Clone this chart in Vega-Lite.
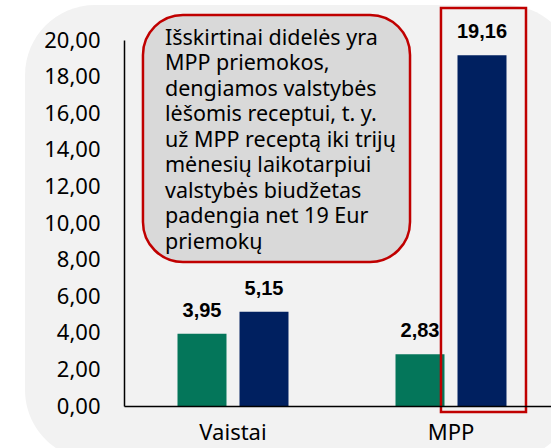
{
  "$schema": "https://vega.github.io/schema/vega-lite/v6.json",
  "autosize": "none",
  "width": 436,
  "height": 366,
  "padding": {"left": 124, "top": 40, "right": 0, "bottom": 42},
  "background": "white",
  "datasets": {
    "bars": [
      {"group": "Vaistai", "series": "Paciento priemoka", "value": 3.95},
      {"group": "Vaistai", "series": "Valstybės dengiama priemoka", "value": 5.15},
      {"group": "MPP", "series": "Paciento priemoka", "value": 2.83},
      {"group": "MPP", "series": "Valstybės dengiama priemoka", "value": 19.16}
    ],
    "note": [
      {"text": ["Išskirtinai didelės yra", "MPP priemokos,", "dengiamos valstybės", "lėšomis receptui, t. y.", "už MPP receptą iki trijų", "mėnesių laikotarpiui", "valstybės biudžetas", "padengia net 19 Eur", "priemokų"]}
    ]
  },
  "layer": [
    {
      "data": {"values": [{"card": "fonas"}]},
      "mark": {"type": "rect", "fill": "#f2f2f2", "cornerRadius": 70},
      "encoding": {
        "x": {"datum": "Vaistai", "bandPosition": -0.454},
        "x2": {"datum": "MPP", "bandPosition": 1.07},
        "y": {"datum": 21.91, "type": "quantitative"},
        "y2": {"datum": -2.95}
      }
    },
    {
      "data": {"name": "bars"},
      "mark": {"type": "bar"},
      "encoding": {
        "x": {
          "field": "group", "type": "nominal", "sort": ["Vaistai", "MPP"],
          "scale": {"paddingInner": 0, "paddingOuter": 0},
          "axis": {"title": null, "labelAngle": 0, "bandPosition": 0.5, "labelAlign": "center", "labelBaseline": "top", "labelFont": "Noto Sans", "labelFontSize": 22, "labelColor": "#000000", "labelPadding": 16, "ticks": false, "domainColor": "#000000", "domainWidth": 1.5, "zindex": 1}
        },
        "xOffset": {"field": "series", "type": "nominal", "scale": {"paddingInner": 0.21, "paddingOuter": 0.863}},
        "y": {
          "field": "value", "type": "quantitative",
          "scale": {"domain": [0, 20], "nice": false},
          "axis": {"title": null, "tickCount": 10, "labelExpr": "replace(format(datum.value, '.2f'), '.', ',')", "labelOverlap": false, "labelSeparation": 0, "grid": false, "ticks": false, "labelPadding": 24, "labelFont": "Noto Sans", "labelFontSize": 22, "labelColor": "#000000", "domainColor": "#000000", "domainWidth": 1.5, "zindex": 1}
        },
        "color": {"field": "series", "type": "nominal", "scale": {"domain": ["Paciento priemoka", "Valstybės dengiama priemoka"], "range": ["#04765A", "#002060"]}, "legend": null}
      }
    },
    {
      "data": {"name": "bars"},
      "mark": {"type": "text", "font": "Liberation Sans", "fontWeight": "bold", "fontSize": 20, "baseline": "alphabetic", "dy": -17, "color": "#000000"},
      "encoding": {
        "x": {"field": "group", "type": "nominal", "sort": ["Vaistai", "MPP"]},
        "xOffset": {"field": "series", "type": "nominal"},
        "y": {"field": "value", "type": "quantitative"},
        "text": {"field": "value", "type": "quantitative", "format": ".2f"}
      }
    },
    {
      "data": {"values": [{"box": "pastaba"}]},
      "mark": {"type": "rect", "fill": "#d9d9d9", "stroke": "#c00000", "strokeWidth": 2.5, "cornerRadius": 40},
      "encoding": {
        "x": {"datum": "Vaistai", "bandPosition": 0.087},
        "x2": {"datum": "MPP", "bandPosition": 0.312},
        "y": {"datum": 21.37, "type": "quantitative"},
        "y2": {"datum": 7.87}
      }
    },
    {
      "data": {"name": "note"},
      "mark": {"type": "text", "font": "Noto Sans", "fontSize": 21.5, "lineHeight": 25.5, "align": "left", "baseline": "alphabetic", "color": "#000000"},
      "encoding": {
        "x": {"datum": "Vaistai", "bandPosition": 0.188},
        "y": {"datum": 19.73, "type": "quantitative"},
        "text": {"field": "text"}
      }
    },
    {
      "data": {"values": [{"box": "paryskinimas"}]},
      "mark": {"type": "rect", "fill": null, "stroke": "#c00000", "strokeWidth": 2.5},
      "encoding": {
        "x": {"datum": "MPP", "bandPosition": 0.454},
        "x2": {"datum": "MPP", "bandPosition": 0.844},
        "y": {"datum": 21.75, "type": "quantitative"},
        "y2": {"datum": -0.33}
      }
    }
  ],
  "config": {
    "view": {"stroke": null},
    "locale": {"number": {"decimal": ",", "thousands": " ", "grouping": [3], "currency": ["", " €"]}}
  }
}
